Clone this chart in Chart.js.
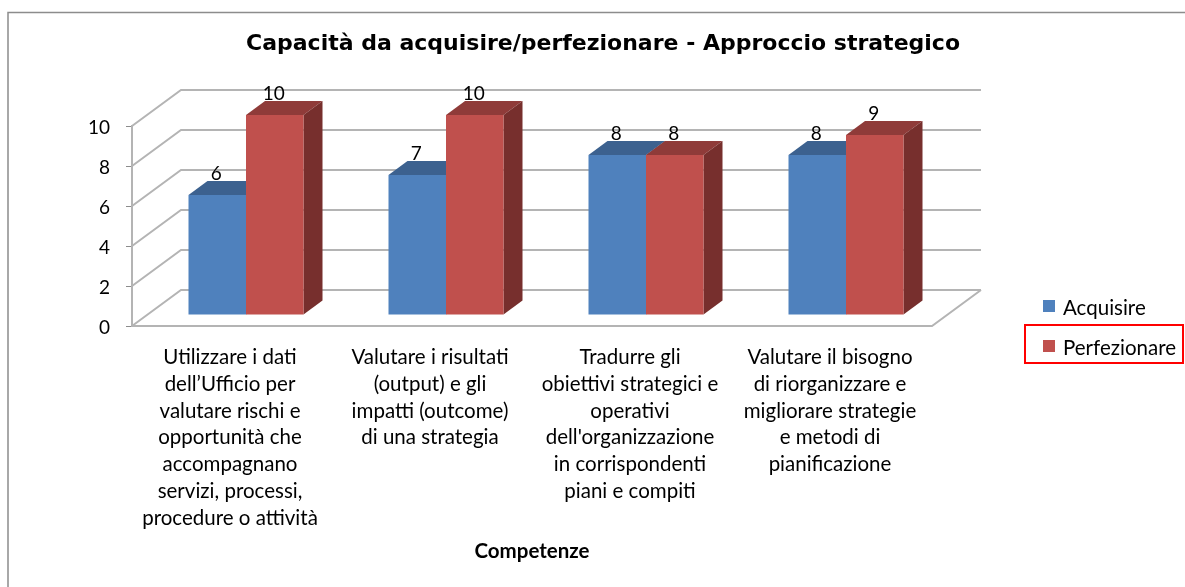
<!DOCTYPE html>
<html>
<head>
<meta charset="utf-8">
<title>Capacità da acquisire/perfezionare</title>
<script src="https://cdn.jsdelivr.net/npm/chart.js@4/dist/chart.umd.min.js"></script>
<style>
    html, body { margin: 0; padding: 0; background: #fff; }
    canvas { display: block; }
</style>
</head>
<body>
<canvas id="chartCapacita" width="1185" height="587"></canvas>
<script>
const categories = [
    ["Utilizzare i dati", "dell’Ufficio per", "valutare rischi e", "opportunità che", "accompagnano", "servizi, processi,", "procedure o attività"],
    ["Valutare i risultati", "(output) e gli", "impatti (outcome)", "di una strategia"],
    ["Tradurre gli", "obiettivi strategici e", "operativi", "dell'organizzazione", "in corrispondenti", "piani e compiti"],
    ["Valutare il bisogno", "di riorganizzare e", "migliorare strategie", "e metodi di", "pianificazione"]
];
const acquisire = [6, 7, 8, 8];
const perfezionare = [10, 10, 8, 9];
const seriesNames = ["Acquisire", "Perfezionare"];
const yTicks = [0, 2, 4, 6, 8, 10];

const labelFont = 'Lato, sans-serif';
const labelSize = 20.5;
const numberSize = 19;

// finta prospettiva 3D: spostamento della parete di fondo e delle barre
const wall = { dx: 49, dy: -36 };
const barShift = { dx: 14, dy: -11 };
const depth = { dx: 19, dy: -14 };

const faces = [
    { top: "#3c618f", side: "#3c618f" },
    { top: "#8f3b39", side: "#772f2d" }
];

function poly(ctx, pts, color) {
    ctx.fillStyle = color;
    ctx.beginPath();
    pts.forEach((p, i) => i ? ctx.lineTo(p[0], p[1]) : ctx.moveTo(p[0], p[1]));
    ctx.closePath();
    ctx.fill();
}

const fake3d = {
    id: "fake3d",
    beforeDatasetsDraw(chart) {
        const { ctx, chartArea: a, scales: { y } } = chart;
        ctx.save();
        ctx.strokeStyle = "#b4b4b4";
        ctx.lineWidth = 2;
        yTicks.forEach(v => {
            const py = y.getPixelForValue(v);
            ctx.beginPath();
            ctx.moveTo(a.left, py);
            ctx.lineTo(a.left + wall.dx, py + wall.dy);
            ctx.lineTo(a.right + wall.dx, py + wall.dy);
            ctx.stroke();
        });
        // pavimento
        const y0 = y.getPixelForValue(0);
        ctx.beginPath();
        ctx.moveTo(a.left, y0);
        ctx.lineTo(a.right, y0);
        ctx.lineTo(a.right + wall.dx, y0 + wall.dy);
        ctx.stroke();
        ctx.restore();
    },
    // il disegno normale e' annullato: le barre rosse devono stare sopra le blu
    beforeDatasetDraw() {
        return false;
    },
    afterDatasetsDraw(chart) {
        const ctx = chart.ctx;
        ctx.save();
        ctx.translate(barShift.dx, barShift.dy);
        chart.data.datasets.forEach((ds, i) => {
            const colors = faces[i];
            chart.getDatasetMeta(i).data.forEach(bar => {
                const l = bar.x - bar.width / 2;
                const r = bar.x + bar.width / 2;
                poly(ctx, [[l, bar.y], [r, bar.y], [r + depth.dx, bar.y + depth.dy], [l + depth.dx, bar.y + depth.dy]], colors.top);
                poly(ctx, [[r, bar.y], [r + depth.dx, bar.y + depth.dy], [r + depth.dx, bar.base + depth.dy], [r, bar.base]], colors.side);
                bar.draw(ctx);
            });
        });
        ctx.restore();

        ctx.save();
        ctx.fillStyle = "#000";
        ctx.font = numberSize + "px " + labelFont;
        ctx.textAlign = "center";
        ctx.textBaseline = "middle";
        chart.data.datasets.forEach((ds, i) => {
            chart.getDatasetMeta(i).data.forEach((bar, j) => {
                ctx.fillText(ds.data[j], bar.x + barShift.dx - 1, bar.y + barShift.dy - 21);
            });
        });
        ctx.restore();
    },
    afterDraw(chart) {
        const ctx = chart.ctx;
        ctx.save();
        // cornice del grafico
        ctx.strokeStyle = "#8c8c8c";
        ctx.lineWidth = 1.5;
        ctx.beginPath();
        ctx.moveTo(8, 587);
        ctx.lineTo(8, 12.5);
        ctx.lineTo(1185, 12.5);
        ctx.stroke();
        // legenda
        ctx.font = labelSize + "px " + labelFont;
        ctx.textBaseline = "middle";
        chart.data.datasets.forEach((ds, i) => {
            const ly = 306 + i * 40;
            ctx.fillStyle = ds.backgroundColor;
            ctx.fillRect(1043, ly - 6, 12, 12);
            ctx.fillStyle = "#000";
            ctx.fillText(ds.label, 1063, ly + 2);
        });
        // riquadro rosso su Perfezionare
        ctx.strokeStyle = "#ff0000";
        ctx.lineWidth = 2;
        ctx.strokeRect(1025, 325, 158, 38);
        ctx.restore();
    }
};

new Chart(document.getElementById("chartCapacita"), {
    type: "bar",
    data: {
        labels: categories,
        datasets: [
            { label: seriesNames[0], data: acquisire, backgroundColor: "#4f81bd" },
            { label: seriesNames[1], data: perfezionare, backgroundColor: "#c0504d" }
        ]
    },
    options: {
        responsive: false,
        animation: false,
        datasets: { bar: { categoryPercentage: 0.575, barPercentage: 1 } },
        layout: { padding: { left: 22, right: 1, top: 0, bottom: 0 } },
        plugins: {
            legend: { display: false },
            tooltip: { enabled: false },
            title: {
                display: true,
                text: "Capacità da acquisire/perfezionare - Approccio strategico",
                color: "#000",
                font: { family: '"DejaVu Sans", sans-serif', size: 22, weight: "bold" },
                padding: { top: 31, bottom: 68.6 }
            }
        },
        scales: {
            x: {
                grid: { display: false },
                border: { display: false },
                ticks: {
                    color: "#000",
                    autoSkip: false,
                    maxRotation: 0,
                    padding: 10,
                    labelOffset: -2,
                    font: { family: labelFont, size: labelSize, lineHeight: "26.8px" }
                },
                title: {
                    display: true,
                    text: "Competenze",
                    color: "#000",
                    font: { family: labelFont, size: labelSize, weight: "bold" },
                    padding: { top: 0, bottom: 23 }
                },
                afterFit(scale) { scale.height = 261; }
            },
            y: {
                min: 0,
                max: 10,
                afterBuildTicks(scale) { scale.ticks = yTicks.map(v => ({ value: v })); },
                grid: { drawOnChartArea: false, drawTicks: true, tickLength: 6, color: "#8c8c8c" },
                border: { color: "#b4b4b4", width: 2 },
                ticks: { color: "#000", padding: 16, labelOffset: 2, font: { family: labelFont, size: numberSize } },
                afterFit(scale) { scale.width = 110; }
            },
            // asse vuoto: tiene libero lo spazio a destra per la legenda
            spazioLegenda: {
                position: "right",
                grid: { display: false },
                border: { display: false },
                ticks: { display: false },
                afterFit(scale) { scale.width = 252; }
            }
        }
    },
    plugins: [fake3d]
});
</script>
</body>
</html>
